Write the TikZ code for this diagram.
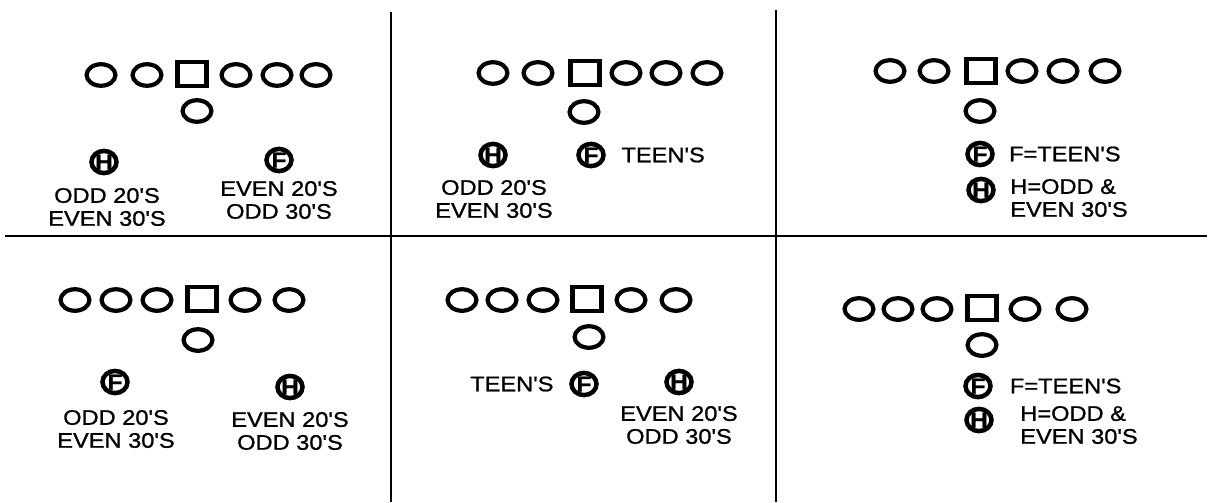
\documentclass[tikz,border=0pt]{standalone}
\usepackage{fontspec}
\setmainfont{Liberation Sans}[FakeStretch=1.12, FakeBold=1, Ligatures=TeXOff]
\usetikzlibrary{shapes.geometric, positioning}

\begin{document}
\begin{tikzpicture}[
  x=0.025cm, y=-0.025cm,
  font=\fontsize{15}{16.3}\selectfont,
  lin/.style={draw, ellipse, line width=3pt, minimum width=20.5pt,
              minimum height=15.3pt, inner sep=0pt},
  ctr/.style={draw, rectangle, line width=3pt, minimum width=20.5pt,
              minimum height=17pt, inner sep=0pt},
  mk/.style={draw, ellipse, line width=3.2pt, minimum width=17.8pt,
             minimum height=15.8pt, inner sep=-3pt,
             font=\fontsize{15.5}{15.5}\selectfont\bfseries},
  lbl/.style={align=center, inner sep=0pt},
  lbll/.style={align=left, inner sep=0pt},
  rule/.style={line width=1.6pt},
]
\useasboundingbox (0,0) rectangle (1208,502);

% ── dividers ─────────────────────────────────────────────────────────────────
\coordinate (v1t) at (391,12);  \coordinate (v1b) at (391,502);
\coordinate (v2t) at (776,10);  \coordinate (v2b) at (776,502);
\coordinate (hl)  at (5,236);   \coordinate (hr)  at (1207,236);
\draw[rule] (v1t) -- (v1b);
\draw[rule] (v2t) -- (v2b);
\draw[rule] (hl) -- (hr);

% ── panel 1 (top left) ───────────────────────────────────────────────────────
\foreach \n/\x in {1/101, 2/147, 3/236, 4/277, 5/316}
  \node[lin] (p1l\n) at (\x,75) {};
\node[ctr] (p1c) at (192,74) {};
\node[lin] (p1b) at (197,111) {};
\node[mk] (p1h) at (104,162) {H};
\node[mk] (p1f) at (279,160) {F};
\node[lbl] (p1t) at (107,207) {ODD 20'S\\EVEN 30'S};
\node[lbl] (p1u) at (279,200) {EVEN 20'S\\ODD 30'S};

% ── panel 2 (top middle) ─────────────────────────────────────────────────────
\foreach \n/\x in {1/493, 2/538, 3/626, 4/666, 5/707}
  \node[lin] (p2l\n) at (\x,73) {};
\node[ctr] (p2c) at (585,73) {};
\node[lin] (p2b) at (584,112) {};
\node[mk] (p2h) at (493,155) {H};
\node[mk] (p2f) at (591,155) {F};
\node[lbl, right=11pt of p2f] (p2u) {TEEN'S};
\node[lbl] (p2t) at (494,199) {ODD 20'S\\EVEN 30'S};

% ── panel 3 (top right) ──────────────────────────────────────────────────────
\foreach \n/\x in {1/890, 2/934, 3/1022, 4/1063, 5/1105}
  \node[lin] (p3l\n) at (\x,71) {};
\node[ctr] (p3c) at (981,71) {};
\node[lin] (p3b) at (980,111) {};
\node[mk] (p3f) at (980,154) {F};
\node[mk] (p3h) at (981,190) {H};
\node[lbll, right=10pt of p3f] (p3u) {F=TEEN'S};
\node[lbll, anchor=west] (p3t) at (1010,198) {H=ODD \&\\EVEN 30'S};

% ── panel 4 (bottom left) ────────────────────────────────────────────────────
\foreach \n/\x in {1/75, 2/116, 3/157, 4/245, 5/289}
  \node[lin] (p4l\n) at (\x,300) {};
\node[ctr] (p4c) at (202,299) {};
\node[lin] (p4b) at (198,340) {};
\node[mk] (p4f) at (115,382) {F};
\node[mk] (p4h) at (290,387) {H};
\node[lbl] (p4t) at (116,429) {ODD 20'S\\EVEN 30'S};
\node[lbl] (p4u) at (290,431) {EVEN 20'S\\ODD 30'S};

% ── panel 5 (bottom middle) ──────────────────────────────────────────────────
\foreach \n/\x in {1/462, 2/502, 3/543, 4/631, 5/676}
  \node[lin] (p5l\n) at (\x,300) {};
\node[ctr] (p5c) at (587,299) {};
\node[lin] (p5b) at (589,337) {};
\node[mk] (p5f) at (584,384) {F};
\node[mk] (p5h) at (679,382) {H};
\node[lbl, left=11pt of p5f] (p5u) {TEEN'S};
\node[lbl] (p5t) at (679,425) {EVEN 20'S\\ODD 30'S};

% ── panel 6 (bottom right) ───────────────────────────────────────────────────
\foreach \n/\x in {1/859, 2/898, 3/937, 4/1025, 5/1072}
  \node[lin] (p6l\n) at (\x,309) {};
\node[ctr] (p6c) at (982,308) {};
\node[lin] (p6b) at (982,345) {};
\node[mk] (p6f) at (978,386) {F};
\node[mk] (p6h) at (979,420) {H};
\node[lbll, right=12pt of p6f] (p6u) {F=TEEN'S};
\node[lbll, anchor=west] (p6t) at (1020,425) {H=ODD \&\\EVEN 30'S};

\end{tikzpicture}
\end{document}
